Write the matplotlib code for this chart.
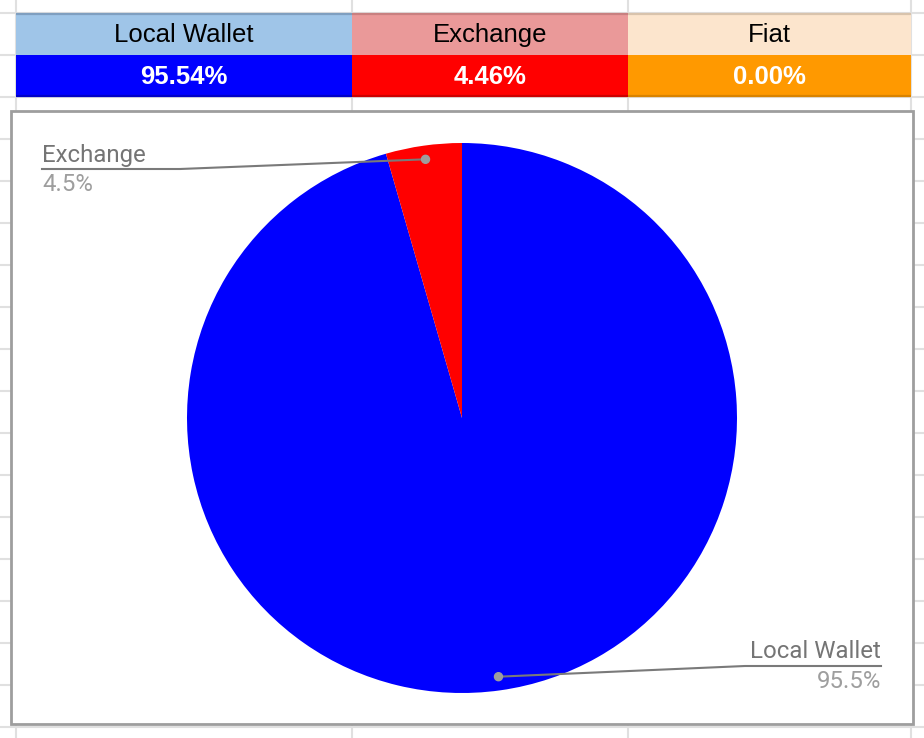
import numpy as np
import matplotlib
matplotlib.use("Agg")
import matplotlib.pyplot as plt
from matplotlib.patches import Rectangle, Circle

# ---- data ----
categories = ["Local Wallet", "Exchange", "Fiat"]
shares = [95.54, 4.46, 0.00]
header_colors = ["#9fc5e8", "#ea9999", "#fce5cd"]
header_edge = ["#7f9fc0", "#c98080", "#d8c3ac"]
value_colors = ["#0000ff", "#ff0000", "#ff9900"]
value_edge = ["#0000c8", "#cc0000", "#d98300"]

W, H = 924, 738
fig = plt.figure(figsize=(W / 100, H / 100), dpi=100)

# ---- background spreadsheet layer (pixel coords) ----
bg = fig.add_axes([0, 0, 1, 1], zorder=0)
bg.set_xlim(0, W)
bg.set_ylim(H, 0)
bg.axis("off")

grid_c = "#e0e0e0"
for y in np.arange(13, H, 42):
    bg.plot([0, W], [y, y], color=grid_c, lw=1.5, solid_capstyle="butt", zorder=0.5)
col_edges = [16, 352, 628, 911]
for x in col_edges:
    bg.plot([x, x], [0, H], color=grid_c, lw=1.5, solid_capstyle="butt", zorder=0.5)

# table
row_top, row_mid, row_bot = 13, 55, 97
for i, name in enumerate(categories):
    x0, x1 = col_edges[i], col_edges[i + 1]
    bg.add_patch(Rectangle((x0, row_top), x1 - x0, row_mid - row_top,
                           facecolor=header_colors[i], edgecolor="none", zorder=1))
    bg.add_patch(Rectangle((x0, row_mid), x1 - x0, row_bot - row_mid,
                           facecolor=value_colors[i], edgecolor="none", zorder=1))
    bg.plot([x0, x1], [row_top + 0.8, row_top + 0.8], color=header_edge[i], lw=1.6,
            solid_capstyle="butt", zorder=2)
    bg.plot([x0, x1], [row_bot - 0.8, row_bot - 0.8], color=value_edge[i], lw=1.6,
            solid_capstyle="butt", zorder=2)
    xc = (x0 + x1) / 2
    bg.text(xc, (row_top + row_mid) / 2 + 1, name, ha="center", va="center",
            fontsize=18.5, family="Liberation Sans", color="black", zorder=3)
    bg.text(xc, (row_mid + row_bot) / 2 + 1, f"{shares[i]:.2f}%", ha="center",
            va="center", fontsize=18.5, family="Liberation Sans", weight="bold",
            color="white", zorder=3)

# chart box
bg.add_patch(Rectangle((11, 111), 913 - 11, 724 - 111, facecolor="white",
                       edgecolor="#9e9e9e", lw=2, zorder=5))

# ---- pie ----
cx, cy, R = 462, 418, 275
ax = fig.add_axes([(cx - R) / W, (H - cy - R) / H, 2 * R / W, 2 * R / H], zorder=1)
wedges, _ = ax.pie(shares, colors=value_colors, startangle=90, counterclock=False,
                   wedgeprops=dict(linewidth=0))
ax.set_xlim(-1, 1)
ax.set_ylim(-1, 1)
ax.set_aspect("equal")
ax.axis("off")

# ---- label overlay ----
ov = fig.add_axes([0, 0, 1, 1], zorder=2)
ov.set_xlim(0, W)
ov.set_ylim(H, 0)
ov.axis("off")
ov.patch.set_alpha(0)

def dot_pixel(w):
    mid = np.deg2rad((w.theta1 + w.theta2) / 2)
    p = ax.transData.transform((0.95 * np.cos(mid), 0.95 * np.sin(mid)))
    return ov.transData.inverted().transform(p)

name_c, pct_c, line_c = "#757575", "#9e9e9e", "#7a7a7a"
fs = 17.3

# Exchange label (left)
wd = wedges[1]
dx, dy = dot_pixel(wd)
ov.plot([42, 180, dx], [169, 169, dy], color=line_c, lw=1.5)
ov.add_patch(Circle((dx, dy), 4, color="#9e9e9e", zorder=3))
ov.text(42, 162, categories[1], ha="left", va="baseline", fontsize=fs,
        family="Roboto", color=name_c)
ov.text(42, 191, f"{shares[1]:.1f}%", ha="left", va="baseline", fontsize=fs,
        family="Roboto", color=pct_c)

# Local Wallet label (right)
wd = wedges[0]
dx, dy = dot_pixel(wd)
ov.plot([881, 745, dx], [666, 666, dy], color=line_c, lw=1.5)
ov.add_patch(Circle((dx, dy), 4, color="#9e9e9e", zorder=3))
ov.text(881, 658, categories[0], ha="right", va="baseline", fontsize=fs,
        family="Roboto", color=name_c)
ov.text(881, 688, f"{shares[0]:.1f}%", ha="right", va="baseline", fontsize=fs,
        family="Roboto", color=pct_c)

fig.savefig("out.png", dpi=100)
